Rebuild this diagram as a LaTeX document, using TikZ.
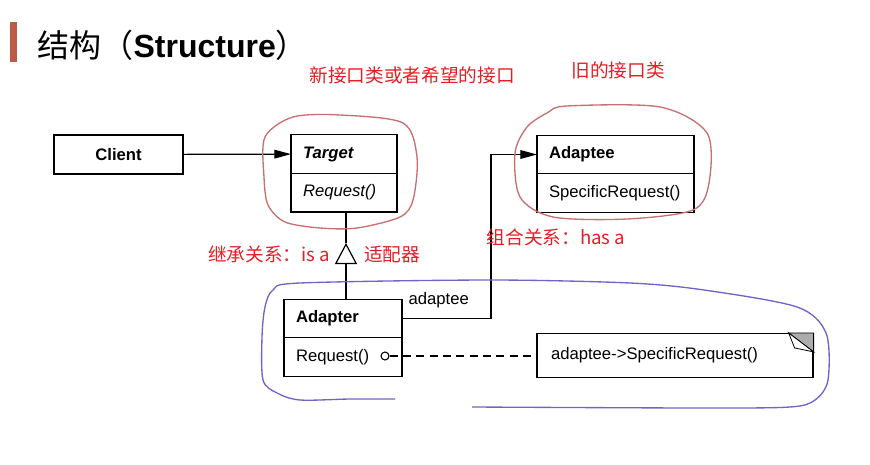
\documentclass[tikz,border=0pt]{standalone}
\usepackage{fontspec}
\setmainfont{Liberation Sans}
\newfontfamily\cjk{Noto Sans CJK SC}
\usepackage{tikz}
\usetikzlibrary{arrows.meta,positioning}
\definecolor{markred}{RGB}{228,30,36}
\definecolor{penred}{RGB}{198,112,112}
\definecolor{penblue}{RGB}{112,100,200}
\definecolor{barred}{RGB}{190,90,70}
\tikzset{class head/.style={
    draw,
    minimum height=29pt,
    text width=#1,
    inner xsep=9pt, inner ysep=0pt, outer sep=0pt,
    align=left,
    font=\fontsize{12.5}{14}\selectfont\bfseries
  },
  class ops/.style={class head=#1, font=\fontsize{12.5}{14}\selectfont},
  mark text/.style={text=markred, font=\cjk\fontsize{14}{16}\selectfont},
  pen/.style={line width=1pt, #1},
  uml arrow/.style={-{Triangle[length=12.5pt,width=6.5pt]}}
}

\begin{document}
\begin{tikzpicture}[x=0.75pt,y=-0.75pt,line width=0.9pt]
    \useasboundingbox (0,0) rectangle (870,464);
    \fill[barred] (10,22) rectangle (17,62);
    \node[anchor=west, inner sep=0pt, font=\fontsize{24}{28}\selectfont] (title) at (37,45)
        {{\cjk 结构（}\textbf{Structure}{\cjk ）}};

    \node[draw, minimum width=96.75pt, minimum height=29.25pt, font=\fontsize{12.5}{14}\selectfont\bfseries] (client) at (118.5,154.5) {Client};
    \node[class head=61.5pt] (target) at (344,154) {\textit{Target}};
    \node[class ops=61.5pt, below=0pt of target] (target ops) {\textit{Request()}};
    \node[class head=99.75pt] (adaptee) at (615.5,154.5) {Adaptee};
    \node[class ops=99.75pt, below=0pt of adaptee] (adaptee ops) {SpecificRequest()};
    \node[class head=70.5pt] (adapter) at (343,318.5) {Adapter};
    \node[class ops=70.5pt, below=0pt of adapter] (adapter ops) {Request()};
    \node[draw, minimum width=207pt, minimum height=33pt, text width=186pt, inner xsep=10.5pt,
        align=left, font=\fontsize{12.5}{14}\selectfont] (note) at (675,355.5) {adaptee-{}>SpecificRequest()\strut};

    \draw[uml arrow] (client) -- (target);
    \coordinate (inherit) at (346,243);
    \draw (target ops.south -| inherit) -- (inherit);
    \draw[-{Triangle[open,length=15.75pt,width=16.5pt]}] (adapter.north -| inherit) -- (inherit);
    \coordinate (bend) at (491,154.5);
    \draw[uml arrow] (adapter.east) -| (bend) -- (adaptee.west);
    \node[anchor=west, inner sep=0pt, font=\fontsize{12.5}{14}\selectfont] (role) at (408,300) {adaptee};
    \node[circle, draw, line width=0.8pt, inner sep=0pt, minimum size=6pt] (req) at (385,356) {};
    \draw[dash pattern=on 6pt off 4pt] (req) -- (req -| note.west);
    \filldraw[fill=gray!65, line width=0.6pt] (note.north east) ++(-25,0) -- (note.north east) -- ++(0,19) -- cycle;
    \filldraw[fill=white, line width=0.6pt] (note.north east) ++(-25,0) -- ++(6,15) -- ++(19,4) -- cycle;

    \node[mark text] (new iface) at (412,75) {新接口类或者希望的接口};
    \node[mark text] (old iface) at (618,70) {旧的接口类};
    \node[mark text] (is a) at (269,254) {继承关系：is a};
    \node[mark text] (wrapper) at (392,254) {适配器};
    \node[mark text] (has a) at (556,237) {组合关系：has a};

    \draw[pen=penred] plot[smooth cycle] coordinates {(265,137) (293,117) (340,115) (403,123) (417,157)
        (413,200) (400,217) (357,228) (320,228) (285,222) (268,205) (264,177)};
    \draw[pen=penred] plot[smooth cycle] coordinates {(547,113) (567,106) (660,107) (707,133) (709,183)
        (693,210) (627,219) (553,217) (520,197) (515,153) (527,127)};
    \draw[pen=penblue] plot[smooth] coordinates {(395,399) (350,399) (300,400) (277,393) (263,380)
        (262,337) (265,307) (273,290) (300,283) (490,280) (630,283) (704,290) (797,307) (826,333)
        (828,380) (815,400) (790,407) (700,408) (472,407)};
\end{tikzpicture}
\end{document}
